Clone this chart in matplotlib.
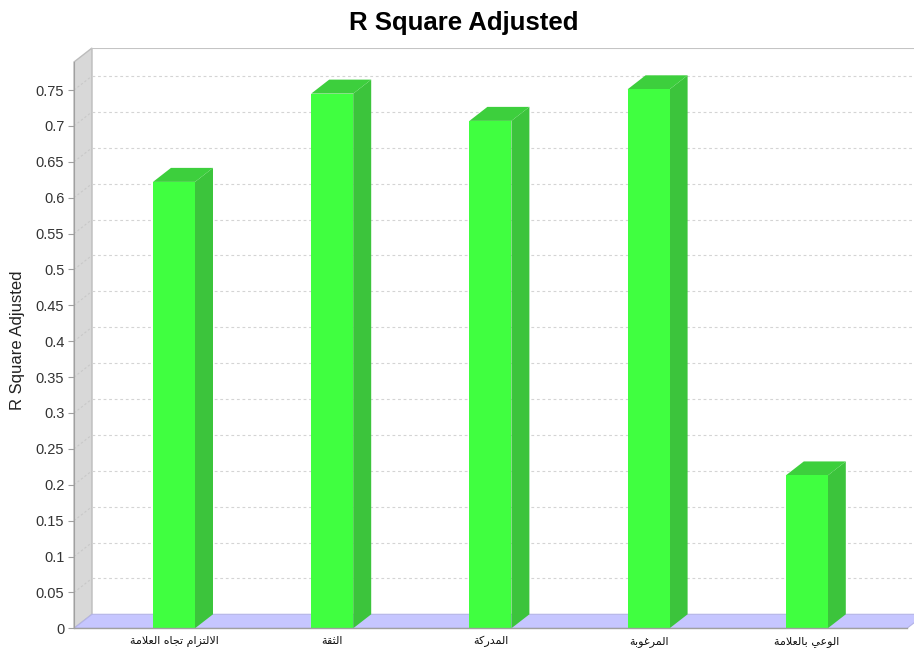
import matplotlib
matplotlib.use("Agg")
import matplotlib.pyplot as plt
from matplotlib.patches import Polygon, Rectangle

# data
categories = ["الالتزام تجاه العلامة", "الثقة", "المدركة", "المرغوبة", "الوعي بالعلامة"]
values = [0.622, 0.745, 0.707, 0.751, 0.213]
yticks = [0, 0.05, 0.1, 0.15, 0.2, 0.25, 0.3, 0.35, 0.4, 0.45, 0.5, 0.55, 0.6, 0.65, 0.7, 0.75]
title = "R Square Adjusted"
ylabel = "R Square Adjusted"

# ---- simple arabic shaping (matplotlib has no bidi / joining) ----
FORMS = {  # isolated, final, initial, medial
    "ا": ("\uFE8D", "\uFE8E", None, None),
    "ب": ("\uFE8F", "\uFE90", "\uFE91", "\uFE92"),
    "ة": ("\uFE93", "\uFE94", None, None),
    "ت": ("\uFE95", "\uFE96", "\uFE97", "\uFE98"),
    "ث": ("\uFE99", "\uFE9A", "\uFE9B", "\uFE9C"),
    "ج": ("\uFE9D", "\uFE9E", "\uFE9F", "\uFEA0"),
    "د": ("\uFEA9", "\uFEAA", None, None),
    "ر": ("\uFEAD", "\uFEAE", None, None),
    "ز": ("\uFEAF", "\uFEB0", None, None),
    "ع": ("\uFEC9", "\uFECA", "\uFECB", "\uFECC"),
    "غ": ("\uFECD", "\uFECE", "\uFECF", "\uFED0"),
    "ق": ("\uFED5", "\uFED6", "\uFED7", "\uFED8"),
    "ك": ("\uFED9", "\uFEDA", "\uFEDB", "\uFEDC"),
    "ل": ("\uFEDD", "\uFEDE", "\uFEDF", "\uFEE0"),
    "م": ("\uFEE1", "\uFEE2", "\uFEE3", "\uFEE4"),
    "ه": ("\uFEE9", "\uFEEA", "\uFEEB", "\uFEEC"),
    "و": ("\uFEED", "\uFEEE", None, None),
    "ي": ("\uFEF1", "\uFEF2", "\uFEF3", "\uFEF4"),
    "لا": ("\uFEFB", "\uFEFC", None, None),
}


def shape_arabic(text):
    # merge lam-alef first
    units = []
    i = 0
    while i < len(text):
        if text[i] == "ل" and i + 1 < len(text) and text[i + 1] == "ا":
            units.append("لا")
            i += 2
        else:
            units.append(text[i])
            i += 1
    out = []
    for k, u in enumerate(units):
        if u not in FORMS:
            out.append(u)
            continue
        prev = units[k - 1] if k > 0 else None
        nxt = units[k + 1] if k + 1 < len(units) else None
        joins_prev = prev in FORMS and FORMS[prev][2] is not None
        joins_next = FORMS[u][2] is not None and nxt in FORMS
        iso, fin, ini, med = FORMS[u]
        if joins_prev and joins_next:
            out.append(med)
        elif joins_prev:
            out.append(fin)
        elif joins_next:
            out.append(ini)
        else:
            out.append(iso)
    return "".join(out)[::-1]


# ---- geometry (pixel based, converted to data units) ----
W, H = 914, 659
sx = 158.2          # px per category
sy = 717.7          # px per unit value
x0_px = 174.0       # pixel x of first bar center
y0_px = 628.3       # pixel y of value 0
ddx, ddy = 18 / sx, 14 / sy   # 3d depth offset in data units
bar_w = 42 / sx

ax_left_px, ax_right_px, ax_top_px = 74, 914, 48
xmin = (ax_left_px - x0_px) / sx
xmax = (ax_right_px - x0_px) / sx
ymax = (y0_px - ax_top_px) / sy
wall_top = ymax - ddy

fig = plt.figure(figsize=(W / 100, H / 100), dpi=100)
ax = fig.add_axes([ax_left_px / W, (H - y0_px) / H,
                   (ax_right_px - ax_left_px) / W, (y0_px - ax_top_px) / H])
ax.set_xlim(xmin, xmax)
ax.set_ylim(0, ymax)
ax.patch.set_visible(False)
for s in ["top", "right", "bottom"]:
    ax.spines[s].set_visible(False)
ax.spines["left"].set_bounds(0, wall_top)
ax.spines["left"].set_color("#a0a0a0")
ax.spines["left"].set_zorder(6)

font = ["Liberation Sans", "DejaVu Sans"]

# left wall
ax.add_patch(Polygon([(xmin, 0), (xmin + ddx, ddy), (xmin + ddx, ymax), (xmin, wall_top)],
                     closed=True, facecolor="#d8d8d8", edgecolor="#bcbcbc", lw=1, zorder=1,
                     clip_on=False))
# back wall top edge
ax.plot([xmin + ddx, xmax + 0.2], [ymax, ymax], color="#c4c4c4", lw=1.5, zorder=1, clip_on=True)

# grid lines on back wall and left wall
for v in yticks[1:]:
    ax.plot([xmin + ddx, xmax], [v + ddy, v + ddy], color="#d4d4d4", lw=0.8,
            dashes=(2.5, 2.5), zorder=1)
    ax.plot([xmin, xmin + ddx], [v, v + ddy], color="#c8c8c8", lw=0.8,
            dashes=(2, 2), zorder=1.5)

# floor
floor_right = (907 - x0_px) / sx
ax.add_patch(Polygon([(xmin, 0), (xmin + ddx, ddy), (floor_right + ddx, ddy), (floor_right, 0)],
                     closed=True, facecolor="#c6c6ff", edgecolor="#b4b4e6", lw=0.8, zorder=2))
ax.plot([xmin, floor_right], [0, 0], color="#a0a0a0", lw=1, zorder=5, clip_on=False)

# bars
for i, v in enumerate(values):
    l = i - bar_w / 2
    r = i + bar_w / 2
    ax.add_patch(Polygon([(r, 0), (r + ddx, ddy), (r + ddx, v + ddy), (r, v)], closed=True,
                         facecolor="#3cc43c", edgecolor="none", zorder=3))
    ax.add_patch(Polygon([(l, v), (l + ddx, v + ddy), (r + ddx, v + ddy), (r, v)], closed=True,
                         facecolor="#3dcf3d", edgecolor="none", zorder=3))
    ax.add_patch(Rectangle((l, 0), bar_w, v, facecolor="#40ff40", edgecolor="none", zorder=4))

# axes ticks
ax.set_yticks(yticks)
ax.set_yticklabels([f"{t:g}" for t in yticks], family=font, fontsize=10.5, color="#333333")
ax.tick_params(axis="y", length=4, width=0.8, color="#a0a0a0", pad=3)
ax.set_xticks([])

for i, c in enumerate(categories):
    ax.text(i, -13 / sy, shape_arabic(c), ha="center", va="center", fontsize=8,
            family=["DejaVu Sans"], color="#111111", clip_on=False)

fig.text(18 / W, 1 - 340 / H, ylabel, rotation=90, ha="center", va="center",
         family=font, fontsize=12, color="#222222")
fig.text(464 / W, 1 - 23 / H, title, ha="center", va="center",
         family=font, fontsize=18.5, fontweight="bold", color="#000000")

fig.savefig("out.png", dpi=100)
